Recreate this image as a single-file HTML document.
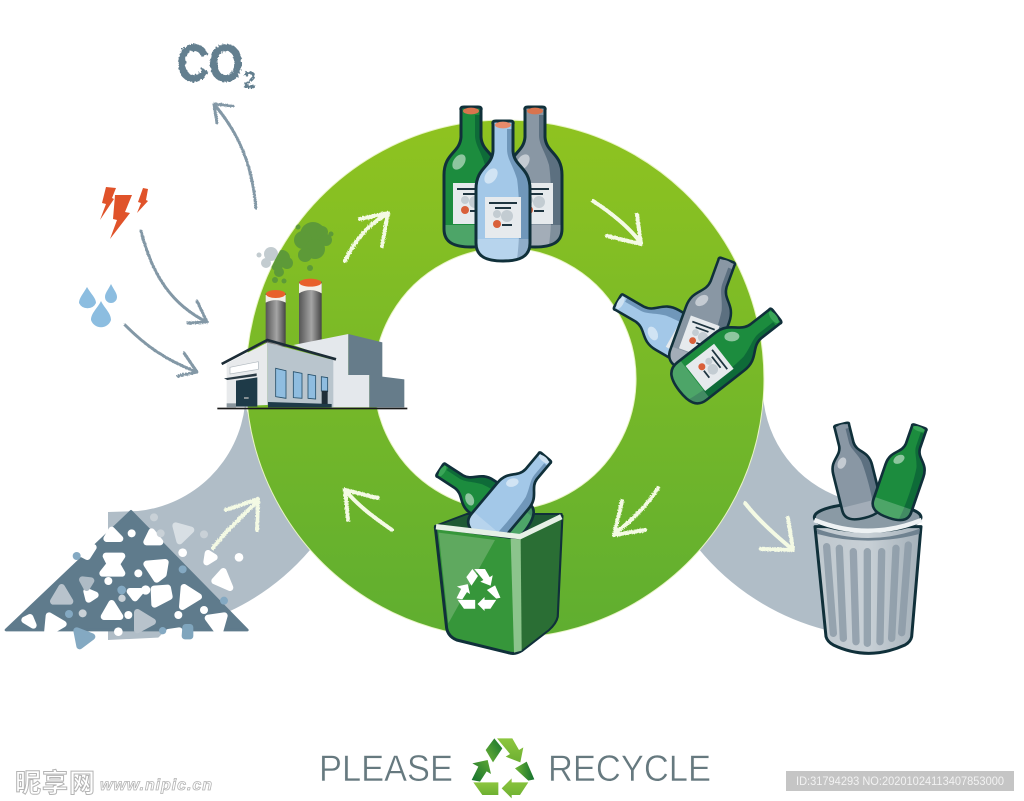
<!DOCTYPE html>
<html><head><meta charset="utf-8">
<style>html,body{margin:0;padding:0;background:#fff}svg{display:block}
.w{fill:none;stroke:#f4fae4;stroke-linecap:round;stroke-linejoin:round;stroke-width:4;filter:url(#chalk)}
.g{fill:none;stroke:#8398a6;stroke-linecap:round;stroke-linejoin:round;stroke-width:3;filter:url(#chalk)}
</style></head><body>
<svg width="1024" height="801" viewBox="0 0 1024 801" xmlns="http://www.w3.org/2000/svg">
<defs>
<linearGradient id="ring" x1="0" y1="0" x2="0" y2="1"><stop offset="0" stop-color="#8fc320"/><stop offset="1" stop-color="#5fae30"/></linearGradient>
<linearGradient id="chim" x1="0" y1="0" x2="1" y2="0"><stop offset="0" stop-color="#555"/><stop offset=".55" stop-color="#a5a5a5"/><stop offset="1" stop-color="#444"/></linearGradient>
<linearGradient id="rd" x1="1" y1="0" x2="0" y2="1"><stop offset="0" stop-color="#12702e"/><stop offset="1" stop-color="#6fb536"/></linearGradient>
<linearGradient id="rd2" x1="0" y1="1" x2="1" y2="0"><stop offset="0" stop-color="#12702e"/><stop offset="1" stop-color="#5fa833"/></linearGradient>
<linearGradient id="rd3" x1="1" y1="0" x2="0" y2="0"><stop offset="0" stop-color="#12702e"/><stop offset="1" stop-color="#6fb536"/></linearGradient>
<linearGradient id="rl" x1="0" y1="0" x2="0" y2="1"><stop offset="0" stop-color="#8dc63f"/><stop offset="1" stop-color="#6db032"/></linearGradient>
<linearGradient id="can" x1="0" y1="0" x2="1" y2="0"><stop offset="0" stop-color="#bfc8ce"/><stop offset=".5" stop-color="#c8d0d6"/><stop offset="1" stop-color="#a4b0b9"/></linearGradient>
<clipPath id="rc"><circle cx="505" cy="379" r="259"/></clipPath>
<filter id="chalk" x="-20%" y="-20%" width="140%" height="140%"><feTurbulence type="fractalNoise" baseFrequency=".7" numOctaves="2" seed="3"/><feDisplacementMap in="SourceGraphic" scale="2.6"/></filter>
<filter id="rough" x="-10%" y="-10%" width="120%" height="120%"><feTurbulence type="fractalNoise" baseFrequency=".4" numOctaves="2" seed="5"/><feDisplacementMap in="SourceGraphic" scale="4"/></filter>
<path id="bs" d="M-10,-67Q-11,-70-7,-70L7,-70Q11,-70 10,-67L10,-40C11,-24 27,-24 27,-2L27,52C27,66 16,70 0,70C-16,70-27,66-27,52L-27,-2C-27,-24-11,-24-10,-40Z"/>
<g id="bt">
<use href="#bs" style="fill:var(--c)"/>
<path d="M4,-62L10,-62L10,-40C11,-24 27,-24 27,-2L27,52C27,62 22,66 14,68C18,40 16,0 14,-12C10,-26 4,-32 4,-42Z" style="fill:var(--d)"/>
<path d="M-27,48L27,48L27,52C27,66 16,70 0,70C-16,70-27,66-27,52Z" fill="#fff" opacity=".22"/>
<ellipse cx="-12" cy="-15" rx="5.5" ry="8.5" transform="rotate(35 -12 -15)" fill="#fff" opacity=".5"/>
</g>
<g id="bottle">
<use href="#bt"/>
<rect x="-18" y="6" width="36" height="41" fill="#e6eaed"/>
<path d="M-14,12H14M-8,17H8" stroke="#1f3540" stroke-width="2" fill="none"/>
<circle cx="-6" cy="33" r="4" fill="#d9603a"/><circle cx="4" cy="25" r="6" fill="#c3ccd2"/>
<circle cx="-6" cy="23" r="4" fill="#c3ccd2"/>
<path d="M-1,34H9" stroke="#1f3540" stroke-width="2"/>
<use href="#bs" fill="none" stroke="#10303a" stroke-width="3" stroke-linejoin="round"/>
<ellipse cx="0" cy="-66" rx="8" ry="3.4" style="fill:var(--k)"/>
</g>
<g id="bottle2">
<use href="#bt"/>
<use href="#bs" fill="none" stroke="#10303a" stroke-width="3.6" stroke-linejoin="round"/>
<ellipse cx="0" cy="-66" rx="8" ry="3.4" style="fill:var(--k)"/>
</g>
</defs>
<rect width="1024" height="801" fill="#fff"/>

<!-- gray arcs -->
<path d="M245,405A120,120 0 0 1 138,511L108,512L108,640L170,637L228,612A240,240 0 0 0 310,550L260,450Z" fill="#b0bdc7"/>
<path d="M763,395A117,117 0 0 0 842,498L826,630A242,242 0 0 1 698,548L720,480Z" fill="#b0bdc7"/>

<!-- ring -->
<path fill-rule="evenodd" d="M505,120A259,259 0 1 1 504.9,120ZM505,248A131,131 0 1 0 505.1,248Z" fill="url(#ring)" stroke="#e9f5c4" stroke-width="1"/>

<!-- smoke -->
<g fill="#c3ccd0"><circle cx="271" cy="254" r="7"/><circle cx="266" cy="263" r="5"/><circle cx="259" cy="255" r="2.5"/></g>
<g fill="#5d9a38" clip-path="url(#rc)">
<circle cx="313" cy="235" r="13"/><circle cx="303" cy="240" r="9"/><circle cx="322" cy="232" r="6"/><circle cx="315" cy="249" r="10"/><circle cx="305" cy="255" r="7"/><circle cx="326" cy="240" r="6"/><circle cx="331" cy="234" r="2.5"/><circle cx="298" cy="227" r="2.5"/><circle cx="310" cy="268" r="3"/>
<circle cx="282" cy="258" r="8"/><circle cx="277" cy="265" r="6"/><circle cx="287" cy="263" r="6"/><circle cx="279" cy="272" r="5"/><circle cx="275" cy="280" r="3"/><circle cx="284" cy="281" r="2.5"/></g>

<!-- factory -->
<g transform="translate(0,30) scale(.33333)">
<rect x="797" y="790" width="60" height="160" fill="url(#chim)"/>
<rect x="897" y="755" width="68" height="190" fill="url(#chim)"/>
<path d="M797,795H857V818Q827,803 797,818Z" fill="#f2efe8"/><ellipse cx="827" cy="792" rx="29" ry="12" fill="#e8602a"/>
<path d="M897,760H965V790Q931,770 897,790Z" fill="#f2efe8"/><ellipse cx="931" cy="758" rx="33" ry="12" fill="#e8602a"/>
<polygon points="880,945 1045,912 1045,1035 1108,1035 1108,1132 990,1132 990,985" fill="#e4e8ec"/>
<polygon points="1045,912 1147,937 1147,1040 1213,1048 1213,1132 1108,1132 1108,1035 1045,1035" fill="#667c8a"/>
<polygon points="680,1000 802,938 802,1125 680,1130" fill="#e8eaec"/>
<polygon points="802,938 1000,990 1000,1132 802,1125" fill="#b9c5cd"/>
<polyline points="665,1002 802,930 1008,988" fill="none" stroke="#1c2c36" stroke-width="8"/>
<polygon points="690,1012 775,995 775,1018 690,1032" fill="#fff" stroke="#b0b8be" stroke-width="2"/>
<polygon points="672,1045 770,1030 770,1038 682,1050" fill="#2a3a44"/>
<polygon points="708,1052 772,1042 772,1130 708,1130" fill="#1e3a48"/>
<rect x="732" y="1102" width="14" height="4" fill="#bbb"/>
<g fill="#8fbde0" stroke="#27506a" stroke-width="2.5">
<polygon points="827,1015 858,1022 858,1105 827,1100"/><polygon points="880,1025 906,1030 906,1105 880,1103"/><polygon points="924,1033 947,1037 947,1107 924,1105"/><polygon points="964,1040 983,1043 983,1085 964,1083"/></g>
<polygon points="804,1116 995,1122 995,1132 804,1132" fill="#1e3a48"/>
<rect x="965" y="1082" width="18" height="40" fill="#1e2e38"/>
<rect x="652" y="1133" width="570" height="5" fill="#1a1a1a"/>
<rect x="680" y="1120" width="28" height="12" fill="#8a969e"/>
</g>

<!-- gray arrows -->
<path class="g" d="M256,208C252,165 240,135 214,104M233,106L214,104L217,123"/>
<path class="g" d="M141,231C152,275 172,305 207,322M197,301L207,322L188,323"/>
<path class="g" d="M125,325C145,345 165,360 197,372M184,353L197,372L178,376"/>

<!-- CO2 -->
<text x="177" y="81" font-family="'Liberation Sans',sans-serif" font-weight="700" font-size="52" fill="#647f8f" stroke="#647f8f" stroke-width="1" textLength="66" lengthAdjust="spacingAndGlyphs" filter="url(#rough)">CO</text>
<text x="243" y="88" font-family="'Liberation Sans',sans-serif" font-weight="700" font-size="24" fill="#647f8f" filter="url(#rough)">2</text>

<!-- lightning -->
<g fill="#e0532a">
<polygon points="115,195 132,195 125,212 130,213 110,239 117,220 113,219"/>
<polygon points="106,187 116,188 112,198 114,199 100,220 106,204 102,203"/>
<polygon points="143,188 148,189 146,200 148,201 137,213 141,203 138,202"/></g>
<!-- drops -->
<g fill="#8cbde0">
<path d="M88,287C92,294 97,298 97,303A9.5,9.5 0 0 1 80,303C80,298 84,294 88,287Z" transform="translate(-1,0)"/>
<path d="M111,284C114,290 117,293 117,297A6,6 0 0 1 105,297C105,293 108,290 111,284Z"/>
<path d="M101,301C105,309 111,313 111,320A10.5,10.5 0 0 1 91,320C91,313 97,309 101,301Z"/>
</g>

<!-- top bottles -->
<use href="#bottle" transform="translate(471,177)" style="--c:#1c8c3e;--d:#0e6b38;--k:#d9744e"/>
<use href="#bottle" transform="translate(535,177)" style="--c:#8997a4;--d:#5c7080;--k:#d9744e"/>
<use href="#bottle" transform="translate(503,191)" style="--c:#a3c8e8;--d:#7097ba;--k:#e88a6a"/>

<!-- tilted bottles -->
<use href="#bottle" transform="translate(669,331) rotate(-60) scale(.85)" style="--c:#a3c8e8;--d:#7097ba;--k:#cfe2f2"/>
<use href="#bottle" transform="translate(707,316) rotate(20) scale(.85)" style="--c:#8997a4;--d:#5c7080;--k:#8997a4"/>
<use href="#bottle" transform="translate(728,353) rotate(52) scale(.88)" style="--c:#1c8c3e;--d:#0e6b38;--k:#3aa558"/>

<!-- green bin -->
<g transform="translate(420,440) scale(.33333)">
<polygon points="45,258 140,222 425,222 300,295" fill="#1e5a34" stroke="#10303a" stroke-width="6" stroke-linejoin="round"/>
</g>
<use href="#bottle2" transform="translate(484,498) rotate(-57) scale(.75)" style="--c:#1c8c3e;--d:#0e6b38;--k:#3aa558"/>
<use href="#bottle2" transform="translate(512,497) rotate(40) scale(.75)" style="--c:#a3c8e8;--d:#7097ba;--k:#cfe2f2"/>
<g transform="translate(420,440) scale(.33333)">
<path d="M46,262L300,296L426,228L412,530Q408,550 385,570L305,632Q285,645 265,638L110,600Q85,590 80,565Z" fill="#36963a" stroke="#10303a" stroke-width="9" stroke-linejoin="round"/>
<path d="M300,296L424,232L410,530Q406,548 385,568L305,630Z" fill="#2a6e34"/>
<path d="M272,296L302,298L305,632L282,638Z" fill="#8cc48c"/>
<path d="M56,278L225,300L85,550Z" fill="#5fa95f"/>
<path d="M48,260L300,290L424,230" fill="none" stroke="#e6f0e6" stroke-width="16"/>
</g>
<g transform="translate(478,590) scale(.234) translate(-112,-115)" fill="#fff">
<polygon points="62,60 88,25 112,55 84,97"/><polygon points="96,25 142,25 162,60 175,52 166,97 122,80 135,72"/>
<polygon points="22,100 68,90 78,132 65,124 45,155 20,150 40,110"/><polygon points="25,157 100,157 100,195 52,195"/>
<polygon points="150,115 185,95 208,148 190,152"/><polygon points="110,175 140,145 140,157 190,157 165,195 140,195 140,205"/>
</g>

<!-- trash can -->
<g transform="translate(420,440) scale(.33333)">
<path d="M1185,260L1218,590Q1222,605 1240,615Q1345,665 1455,615Q1472,605 1475,590L1503,260Z" fill="url(#can)" stroke="#10303a" stroke-width="9" stroke-linejoin="round"/>
<g stroke="#8a99a5" stroke-width="22" stroke-linecap="round" opacity=".8">
<path d="M1220,320L1240,580M1258,325L1270,595M1300,335L1308,605M1342,335V610M1385,335L1380,605M1428,325L1415,595M1465,315L1445,578" fill="none"/></g>
<ellipse cx="1343" cy="232" rx="160" ry="42" fill="#8a9aa5" stroke="#10303a" stroke-width="9"/>
<path d="M1183,240Q1343,305 1505,240" fill="none" stroke="#eef2f4" stroke-width="14"/>
<path d="M1190,266Q1343,322 1500,266L1498,282Q1343,322 1192,282Z" fill="#6f8290"/>
</g>
<use href="#bottle2" transform="translate(853,471) rotate(-14) scale(.74,.69)" style="--c:#8997a4;--d:#5c7080;--k:#8997a4"/>
<use href="#bottle2" transform="translate(904,472) rotate(19) scale(.74,.69)" style="--c:#1c8c3e;--d:#0e6b38;--k:#3aa558"/>

<!-- rock pile -->
<g transform="translate(0,480) scale(.33333)">
<polygon points="393,94 18,450 742,450" fill="#5f7b8c" stroke="#5f7b8c" stroke-width="8" stroke-linejoin="round"/>
<g stroke-linejoin="round" stroke-width="20">
<g fill="#fff" stroke="#fff">
<polygon points="335,150 320,176 360,176"/><polygon points="455,155 440,186 480,186"/>
<polygon points="318,228 366,228 350,252 366,280 308,280 330,252"/>
<polygon points="440,252 496,247 490,283 470,298"/><polygon points="260,334 286,345 266,358"/>
<polygon points="335,370 312,410 360,410"/><polygon points="390,334 422,334 405,354"/>
<polygon points="462,327 503,324 508,350 464,373"/><polygon points="552,322 596,350 547,380"/>
<polygon points="90,412 74,420 100,436"/><polygon points="147,407 190,432 142,460"/>
<polygon points="624,414 673,407 658,460"/><polygon points="624,220 643,232 620,246"/>
<polygon points="670,274 690,323 644,303"/><polygon points="264,207 280,202 262,230 247,222"/>
<polygon points="505,457 538,452 543,480 482,480"/></g>
<polygon points="185,322 160,364 210,364" fill="#b8c3cc" stroke="#b8c3cc"/>
<polygon points="412,397 458,425 412,450" fill="#b8c3cc" stroke="#b8c3cc"/>
<polygon points="247,299 273,302 260,323" fill="#aebbc5" stroke="#aebbc5"/>
<polygon points="527,137 573,150 539,183" fill="#d8dfe4" stroke="#d8dfe4"/>
<polygon points="230,452 276,470 239,498" fill="#84a9c2" stroke="#84a9c2"/>
<polygon points="557,442 570,442 570,468 555,468" fill="#7fa5bd" stroke="#7fa5bd"/>
</g>
<g fill="#fff"><circle cx="395" cy="160" r="12"/><circle cx="548" cy="218" r="13"/><circle cx="717" cy="232" r="13"/><circle cx="415" cy="280" r="12"/><circle cx="325" cy="303" r="12"/><circle cx="437" cy="330" r="14"/><circle cx="535" cy="405" r="12"/><circle cx="385" cy="405" r="12"/><circle cx="612" cy="390" r="12"/><circle cx="355" cy="455" r="13"/></g>
<g fill="#c9d1d7"><circle cx="462" cy="112" r="12"/><circle cx="612" cy="163" r="12"/><circle cx="248" cy="400" r="12"/><circle cx="366" cy="355" r="11"/><circle cx="482" cy="160" r="12"/></g>
<g fill="#84a9c2"><circle cx="548" cy="268" r="12"/><circle cx="207" cy="402" r="12"/><circle cx="365" cy="330" r="13"/><circle cx="672" cy="362" r="12"/><circle cx="230" cy="228" r="12"/><circle cx="488" cy="452" r="11"/></g>
</g>

<!-- white chalk arrows -->
<path class="w" d="M345,261C355,240 368,225 387,214M360,219L388,213L382,246"/>
<path class="w" d="M593,201C610,212 628,226 641,243M637,215L641,244L607,236"/>
<path class="w" d="M658,488C648,505 630,522 614,534M622,501L614,535L645,530"/>
<path class="w" d="M392,530C378,520 360,508 345,490M348,520L345,490L378,498"/>
<path class="w" d="M213,548C225,532 242,516 257,502M226,510L258,499L257,530"/>
<path class="w" d="M745,503C758,520 775,535 792,549M788,518L793,550L761,549"/>

<!-- title -->
<g font-family="'Liberation Sans',sans-serif" font-size="37" fill="#66797f" stroke="#fff" stroke-width=".5">
<text x="319" y="781" textLength="134" lengthAdjust="spacingAndGlyphs">PLEASE</text>
<text x="548" y="781" textLength="163" lengthAdjust="spacingAndGlyphs">RECYCLE</text></g>
<g transform="translate(465,730) scale(.3333)">
<polygon points="62,60 88,25 112,55 84,97" fill="url(#rd)"/>
<polygon points="96,25 142,25 162,60 175,52 166,97 122,80 135,72" fill="url(#rl)"/>
<polygon points="22,100 68,90 78,132 65,124 45,155 20,150 40,110" fill="url(#rd2)"/>
<polygon points="25,157 100,157 100,195 52,195" fill="url(#rl)"/>
<polygon points="150,115 185,95 208,148 190,152" fill="url(#rd3)"/>
<polygon points="110,175 140,145 140,157 190,157 165,195 140,195 140,205" fill="url(#rl)"/>
</g>

<!-- watermarks -->
<text x="15" y="792" font-family="'Noto Sans CJK SC',sans-serif" font-weight="700" font-size="26" fill="#fff" stroke="#b4b4b4" stroke-width="1" textLength="80">昵享网</text>
<text x="100" y="790" font-family="'Liberation Sans',sans-serif" font-weight="700" font-style="italic" font-size="16" fill="#fff" stroke="#b4b4b4" stroke-width=".8" textLength="112">www.nipic.cn</text>
<rect x="786" y="771" width="228" height="20" fill="#c5c5c5"/>
<text x="796" y="785" font-family="'Liberation Sans',sans-serif" font-size="12" fill="#f2f2f2" textLength="208" lengthAdjust="spacingAndGlyphs">ID:31794293 NO:20201024113407853000</text>
</svg>
</body></html>
